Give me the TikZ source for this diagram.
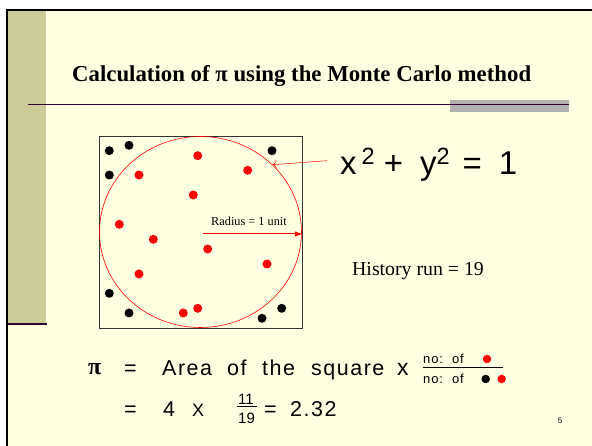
\documentclass[tikz,border=0pt]{standalone}
\usepackage{fontspec}
\setmainfont{Liberation Serif}
\newfontfamily\arial{Liberation Sans}
\newfontfamily\arialwide[LetterSpace=7]{Liberation Sans}
\usetikzlibrary{arrows.meta, shapes.geometric}

\definecolor{slidebg}{RGB}{255,255,225}
\definecolor{slidetan}{RGB}{204,204,153}
\definecolor{rulepurple}{RGB}{51,0,51}
\definecolor{bargrey}{RGB}{178,178,178}

\newcommand{\supnum}[1]{\raisebox{10pt}{\fontsize{23.5}{24}\selectfont #1}}

\begin{document}
\begin{tikzpicture}[x=1pt, y=-1pt, >=Stealth,
        reddot/.style={circle, fill=red, inner sep=0pt, minimum size=9pt},
        blackdot/.style={circle, fill=black, inner sep=0pt, minimum size=9pt},
        smalldot/.style={circle, inner sep=0pt, minimum size=8.5pt},
        txt/.style={inner sep=0pt, anchor=base west},
        bigsans/.style={font=\arialwide\fontsize{21.5}{24}\selectfont}]
        \useasboundingbox (0,0) rectangle (592,446);

        % slide background and left band
        \fill[white] (0,0) rectangle (592,446);
        \fill[slidebg] (7,10) rectangle (592,446);
        \fill[slidetan] (8,11) rectangle (46,323);
        \draw[rulepurple, line width=2pt] (8,324) -- (47,324);
        \draw[black, line width=2pt] (7,9) -- (7,446);
        \draw[black, line width=2pt] (6,10) -- (592,10);

        % title and rule under it
        \node[txt] (title) at (72,82) {\fontsize{22.8}{27}\selectfont\bfseries Calculation of π using the Monte Carlo method};
        \fill[bargrey] (450,100) rectangle (569,112);
        \draw[rulepurple, line width=1pt] (28,105) -- (569,105);

        % square with the circle inside
        \draw[black!80, line width=0.8pt] (99,136) rectangle (302,328);
        \node[ellipse, draw=red, line width=0.6pt, inner sep=0pt,
              minimum width=202pt, minimum height=191pt] (circ) at (200.5,232) {};
        \coordinate (ctr) at (203,234);

        % points inside the circle
        \node[reddot] (r1) at (197.7,155.7) {};
        \node[reddot] (r2) at (247.7,170.3) {};
        \node[reddot] (r3) at (139,175) {};
        \node[reddot] (r4) at (193.3,195) {};
        \node[reddot] (r5) at (119.3,224.3) {};
        \node[reddot] (r6) at (153.3,239.3) {};
        \node[reddot] (r7) at (207.7,249) {};
        \node[reddot] (r8) at (267,264) {};
        \node[reddot] (r9) at (139,274) {};
        \node[reddot] (r10) at (183.3,313) {};
        \node[reddot] (r11) at (197.7,308.3) {};

        % points outside the circle
        \node[blackdot] (b1) at (109.3,150.7) {};
        \node[blackdot] (b2) at (129,145.3) {};
        \node[blackdot] (b3) at (272,150.7) {};
        \node[blackdot] (b4) at (109.3,175) {};
        \node[blackdot] (b5) at (109.3,293.3) {};
        \node[blackdot] (b6) at (129,313) {};
        \node[blackdot] (b7) at (262,318.3) {};
        \node[blackdot] (b8) at (281.7,308.3) {};

        % radius arrow
        \draw[-{Triangle[length=7pt, width=5pt]}, red, line width=1pt] (ctr) -- (ctr -| circ.east);
        \node[font=\fontsize{12.3}{14}\selectfont] (rad) at (249,221) {Radius = 1 unit};

        % equation of the circle
        \node[txt] (eqn) at (340,175) {\arial\fontsize{33}{38}\selectfont x\hspace{5pt}\supnum{2}\hspace{9pt}+\hspace{17pt}y\supnum{2}\hspace{13pt}=\hspace{17pt}1};
        \coordinate (eqnend) at (327,160.7);
        \draw[-{To[length=4pt]}, red, line width=0.5pt] (eqnend) -- (circ.43);

        \node[txt] (hist) at (352,276) {\fontsize{19.8}{23}\selectfont History run = 19};

        % pi = area x fraction
        \node[txt] (pi) at (88,374) {\fontsize{24}{28}\selectfont\bfseries π};
        \node[txt, bigsans] (eq1) at (124,376) {=};
        \node[txt, bigsans] (w1) at (162,376) {Area};
        \node[txt, bigsans] (w2) at (227,376) {of};
        \node[txt, bigsans] (w3) at (262,376) {the};
        \node[txt, bigsans] (w4) at (311,376) {square};
        \node[txt] (times1) at (397,376) {\arial\fontsize{23}{27}\selectfont x};
        \node[txt] (num) at (423,363) {\arialwide\fontsize{13}{15}\selectfont no:\hspace{9pt}of};
        \node[txt] (den) at (423,384) {\arialwide\fontsize{13}{15}\selectfont no:\hspace{9pt}of};
        \node[smalldot, fill=red] (numdot) at (487,359) {};
        \node[smalldot, fill=black] (denblack) at (485.7,379) {};
        \node[smalldot, fill=red] (denred) at (501.7,379) {};
        \draw[black, line width=0.8pt] (423,367) -- (503,367);

        % = 4 x 11/19 = 2.32
        \node[txt, bigsans] (eq2) at (124,417) {=};
        \node[txt, bigsans] (four) at (163,417) {4};
        \node[txt] (times2) at (192,417) {\arial\fontsize{18}{22}\selectfont X};
        \node[txt] (eleven) at (238,404) {\arial\fontsize{15}{18}\selectfont 11};
        \node[txt] (nineteen) at (238,423) {\arial\fontsize{15}{18}\selectfont 19};
        \draw[black, line width=0.7pt] (237,406.5) -- (257,406.5);
        \node[txt, bigsans] (eq3) at (264,417) {=};
        \node[txt, bigsans] (result) at (290,417) {2.32};

        % slide number
        \node[font=\arial\fontsize{8}{9}\selectfont] (pgno) at (560,421) {5};
\end{tikzpicture}
\end{document}
